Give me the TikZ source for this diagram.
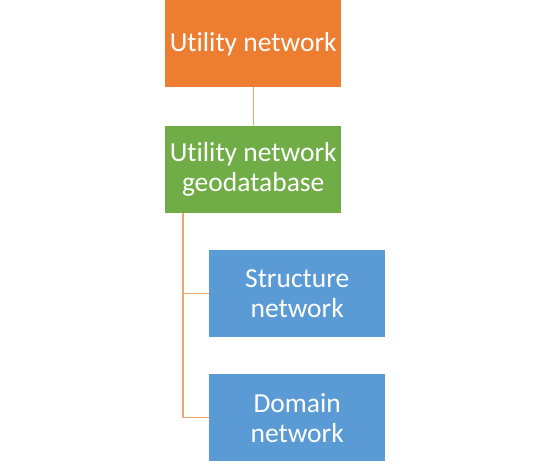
\documentclass[tikz,border=0pt]{standalone}
\usepackage{fontspec}
\setmainfont{Carlito}[Ligatures={NoCommon,NoRequired,NoContextual}]
\usetikzlibrary{positioning, calc}
\definecolor{unorange}{HTML}{ED7D31}
\definecolor{ungreen}{HTML}{70AD47}
\definecolor{unblue}{HTML}{5B9BD5}
\definecolor{unlink}{HTML}{F2A46C}
\tikzset{
    box/.style={
        minimum width=176pt,
        minimum height=87pt,
        inner sep=0pt,
        align=center,
        text=white,
        font=\fontsize{27.5}{30}\selectfont
    },
    link/.style={draw=unlink, line width=1.2pt}
}
\begin{document}
\begin{tikzpicture}[node distance=38pt]

\useasboundingbox (0,0) rectangle (550pt,-465pt);

\node[box, fill=unorange, anchor=north west] (top) at (165pt,0) {Utility network};
\node[box, fill=ungreen, below=of top] (gdb) {Utility network\\geodatabase};
\node[box, fill=unblue, below=37pt of gdb.south west, anchor=north west, xshift=44pt] (struct) {Structure\\network};
\node[box, fill=unblue, below=37pt of struct] (domain) {Domain\\network};

\draw[link] (top) -- (gdb);
\draw[link] ($(gdb.south west)+(18pt,0)$) |- (struct.west);
\draw[link] ($(gdb.south west)+(18pt,0)$) |- (domain.west);

\end{tikzpicture}
\end{document}
